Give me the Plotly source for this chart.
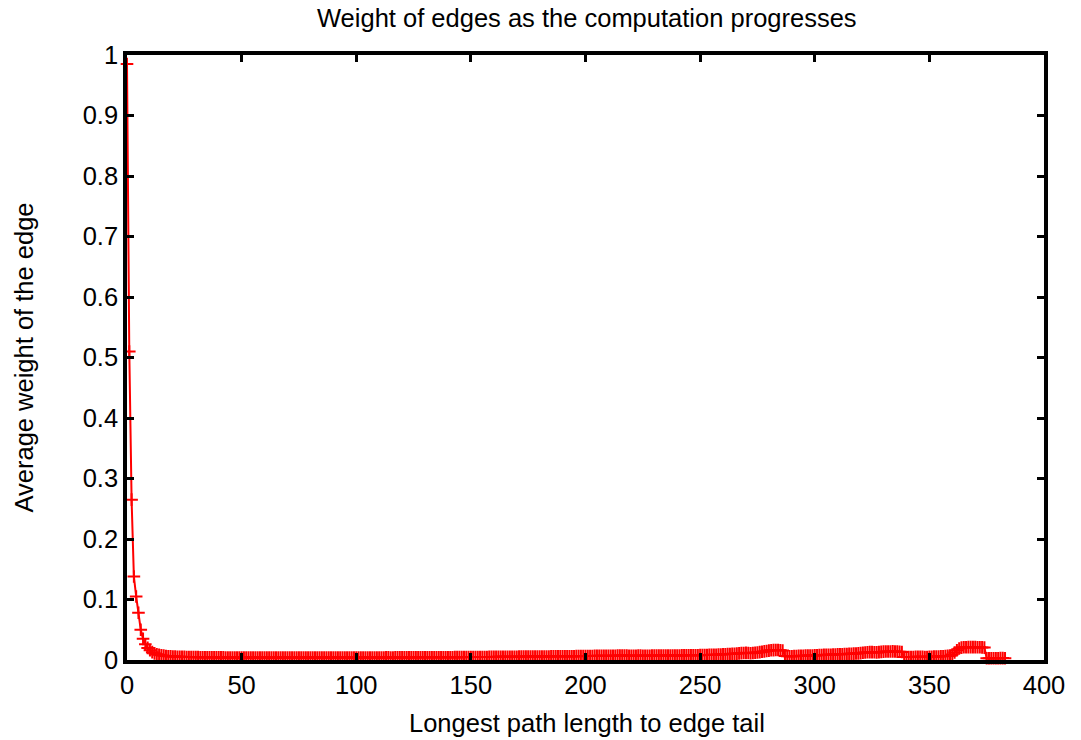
import plotly.graph_objects as go

# Longest path length to edge tail (x) and average edge weight (y)
path_length = list(range(0, 384))

avg_weight = [
    # 0-9
    0.985, 0.51, 0.265, 0.138, 0.105, 0.078, 0.05, 0.035, 0.026, 0.02,
    # 10-19
    0.016, 0.013, 0.011, 0.0095, 0.0085, 0.0078, 0.0072, 0.0067, 0.0063, 0.006,
    # 20-29
    0.0058, 0.0056, 0.0054, 0.0053, 0.0052, 0.0051, 0.005, 0.0049, 0.0048, 0.0048,
    # 30-39
    0.0047, 0.0047, 0.0046, 0.0046, 0.0045, 0.0045, 0.0045, 0.0044, 0.0044, 0.0044,
    # 40-49
    0.0043, 0.0043, 0.0043, 0.0042, 0.0042, 0.0042, 0.0042, 0.0041, 0.0041, 0.0041,
    # 50-59
    0.0041, 0.004, 0.004, 0.004, 0.004, 0.004, 0.004, 0.004, 0.004, 0.004,
    # 60-69
    0.004, 0.0039, 0.0039, 0.004, 0.004, 0.0039, 0.0039, 0.004, 0.004, 0.004,
    # 70-79
    0.004, 0.004, 0.0039, 0.0039, 0.004, 0.004, 0.004, 0.004, 0.0041, 0.004,
    # 80-89
    0.004, 0.004, 0.004, 0.0041, 0.0041, 0.004, 0.004, 0.004, 0.0041, 0.0041,
    # 90-99
    0.0041, 0.0041, 0.004, 0.004, 0.0041, 0.0041, 0.0041, 0.0041, 0.0041, 0.0041,
    # 100-109
    0.0041, 0.0041, 0.0042, 0.0042, 0.0041, 0.0041, 0.0042, 0.0042, 0.0042, 0.0042,
    # 110-119
    0.0042, 0.0042, 0.0042, 0.0043, 0.0043, 0.0042, 0.0042, 0.0043, 0.0043, 0.0043,
    # 120-129
    0.0043, 0.0043, 0.0043, 0.0044, 0.0044, 0.0043, 0.0044, 0.0044, 0.0044, 0.0044,
    # 130-139
    0.0044, 0.0045, 0.0045, 0.0045, 0.0044, 0.0045, 0.0045, 0.0045, 0.0046, 0.0046,
    # 140-149
    0.0046, 0.0046, 0.0046, 0.0047, 0.0047, 0.0047, 0.0047, 0.0048, 0.0048, 0.0048,
    # 150-159
    0.0048, 0.0049, 0.0049, 0.0049, 0.005, 0.005, 0.005, 0.005, 0.0051, 0.0051,
    # 160-169
    0.0051, 0.0052, 0.0052, 0.0052, 0.0052, 0.0053, 0.0053, 0.0053, 0.0054, 0.0054,
    # 170-179
    0.0054, 0.0055, 0.0055, 0.0055, 0.0056, 0.0056, 0.0056, 0.0057, 0.0057, 0.0057,
    # 180-189
    0.0058, 0.0058, 0.0058, 0.0059, 0.0059, 0.006, 0.006, 0.006, 0.0061, 0.0061,
    # 190-199
    0.0061, 0.0062, 0.0062, 0.0063, 0.0063, 0.0063, 0.0064, 0.0064, 0.0065, 0.0065,
    # 200-209
    0.0066, 0.0066, 0.0067, 0.0067, 0.0068, 0.0069, 0.007, 0.007, 0.0069, 0.0068,
    # 210-219
    0.0068, 0.0069, 0.007, 0.0071, 0.0072, 0.0073, 0.0074, 0.0073, 0.0072, 0.0071,
    # 220-229
    0.007, 0.007, 0.0071, 0.0072, 0.0072, 0.0071, 0.007, 0.007, 0.0071, 0.0072,
    # 230-239
    0.0073, 0.0074, 0.0073, 0.0072, 0.0072, 0.0073, 0.0074, 0.0075, 0.0075, 0.0074,
    # 240-249
    0.0074, 0.0075, 0.0076, 0.0077, 0.0078, 0.0078, 0.0077, 0.0077, 0.0078, 0.0079,
    # 250-259
    0.008, 0.0081, 0.0082, 0.0083, 0.0084, 0.0085, 0.0086, 0.0088, 0.009, 0.0092,
    # 260-269
    0.0094, 0.0096, 0.0098, 0.01, 0.0102, 0.0104, 0.0106, 0.011, 0.0114, 0.0116,
    # 270-279
    0.0118, 0.0115, 0.0112, 0.0115, 0.012, 0.0125, 0.013, 0.0136, 0.0142, 0.0148,
    # 280-289
    0.0155, 0.016, 0.0163, 0.0165, 0.0165, 0.0162, 0.0158, 0.0065, 0.006, 0.006,
    # 290-299
    0.0062, 0.0064, 0.0066, 0.0068, 0.007, 0.007, 0.0072, 0.0073, 0.0074, 0.0075,
    # 300-309
    0.0076, 0.0078, 0.008, 0.0082, 0.0084, 0.0085, 0.0086, 0.0088, 0.009, 0.0092,
    # 310-319
    0.0094, 0.0095, 0.0096, 0.0098, 0.01, 0.0102, 0.0104, 0.0106, 0.0108, 0.011,
    # 320-329
    0.0114, 0.012, 0.0125, 0.0128, 0.013, 0.013, 0.0128, 0.0126, 0.013, 0.0134,
    # 330-339
    0.0138, 0.014, 0.014, 0.0141, 0.0142, 0.014, 0.0138, 0.0136, 0.0132, 0.005,
    # 340-349
    0.0048, 0.0048, 0.005, 0.005, 0.0052, 0.0054, 0.0054, 0.0052, 0.005, 0.005,
    # 350-359
    0.0052, 0.0054, 0.0055, 0.0056, 0.0058, 0.006, 0.0062, 0.0065, 0.0068, 0.0072,
    # 360-369
    0.009, 0.0125, 0.016, 0.019, 0.0205, 0.021, 0.021, 0.0212, 0.0212, 0.0212,
    # 370-379
    0.0212, 0.021, 0.021, 0.0208, 0.0205, 0.003, 0.0028, 0.0028, 0.003, 0.003,
    # 380-383
    0.003, 0.0031, 0.0031, 0.003,
]

x_ticks = [0, 50, 100, 150, 200, 250, 300, 350, 400]
y_ticks = [0, 0.1, 0.2, 0.3, 0.4, 0.5, 0.6, 0.7, 0.8, 0.9, 1]
y_tick_text = ["0", "0.1", "0.2", "0.3", "0.4", "0.5", "0.6", "0.7", "0.8", "0.9", "1"]

title_text = "Weight of edges as the computation progresses"
x_title_text = "Longest path length to edge tail"
y_title_text = "Average weight of the edge"

FONT = "Liberation Sans, Arial, Helvetica, sans-serif"
FS = 25.5
W, H = 1081, 740
L, R, T, B = 127, 37, 55, 80
PW, PH = W - L - R, H - T - B

fig = go.Figure()
fig.add_trace(go.Scatter(
    x=path_length,
    y=avg_weight,
    mode="lines+markers",
    line=dict(color="#ff0000", width=2),
    marker=dict(symbol="cross-thin", size=9, line=dict(color="#ff0000", width=2), color="#ff0000"),
    cliponaxis=False,
    showlegend=False,
    hoverinfo="skip",
))

axis_common = dict(
    showline=True, linecolor="black", linewidth=3.5, mirror="allticks",
    ticks="inside", tickcolor="black", tickwidth=2.5, ticklen=7,
    showgrid=False, zeroline=False,
    tickfont=dict(family=FONT, size=FS, color="black"),
)

tfont = dict(family=FONT, size=FS, color="black")

fig.update_layout(
    width=W, height=H,
    paper_bgcolor="white", plot_bgcolor="white",
    margin=dict(l=L, r=R, t=T, b=B, autoexpand=False),
    xaxis=dict(range=[0, 400], tickvals=x_ticks, **axis_common),
    yaxis=dict(range=[0, 1], tickvals=y_ticks, ticktext=y_tick_text, **axis_common),
    annotations=[
        dict(text=title_text, xref="paper", yref="paper",
             x=(587 - L) / PW, y=(H - B - 18) / PH - (H - B - T) / PH + 1 + (T - 18) / PH - (T - 18) / PH,
             xanchor="center", yanchor="middle", showarrow=False, font=tfont),
        dict(text=x_title_text, xref="paper", yref="paper",
             x=(587 - L) / PW, y=((H - B) - 723) / PH,
             xanchor="center", yanchor="middle", showarrow=False, font=tfont),
        dict(text=y_title_text, xref="paper", yref="paper", textangle=-90,
             x=(23 - L) / PW, y=0.5,
             xanchor="center", yanchor="middle", showarrow=False, font=tfont),
    ],
)

# position the title by its pixel row (cap centre ~18 px from top)
fig.layout.annotations[0].y = ((H - B) - 18) / PH

fig.write_html(
    "out.html",
    config={"displayModeBar": False},
    post_script="document.body.style.margin='0';document.body.style.overflow='hidden';",
)
